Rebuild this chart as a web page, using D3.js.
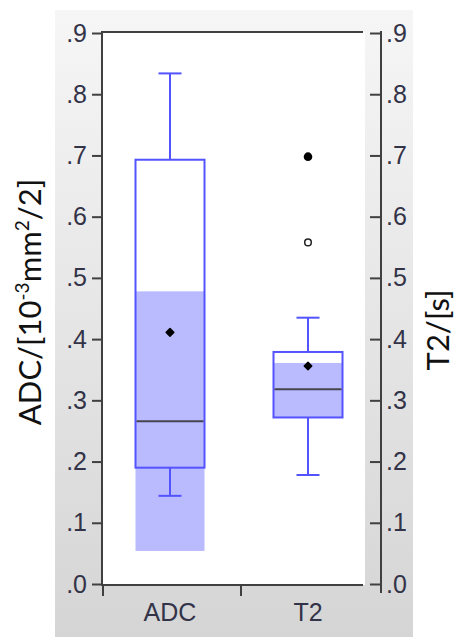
<!DOCTYPE html>
<html><head><meta charset="utf-8">
<script src="https://cdn.jsdelivr.net/npm/d3@7"></script>
<style>body{margin:0;background:#fff}svg{display:block}</style>
</head><body>
<svg id="c" width="459" height="637"></svg>
<script>
const categories = ["ADC", "T2"];
const whiskerLow = [0.144, 0.178];
const q1 = [0.190, 0.272];
const median = [0.266, 0.318];
const q3 = [0.693, 0.379];
const whiskerHigh = [0.834, 0.435];
const mean = [0.411, 0.356];
const bandLow = [0.054, 0.272];
const bandHigh = [0.478, 0.361];
const outlierCat = ["T2", "T2"];
const outlierVal = [0.698, 0.558];
const outlierFilled = [true, false];
const yTickValues = [0, 0.1, 0.2, 0.3, 0.4, 0.5, 0.6, 0.7, 0.8, 0.9];
const yTickLabels = [".0", ".1", ".2", ".3", ".4", ".5", ".6", ".7", ".8", ".9"];
const yTitleLeft = ["ADC/[10", "-3", "mm", "2", "/2]"];
const yTitleRight = "T2/[s]";

const svg = d3.select("#c");
const defs = svg.append("defs");
const g = defs.append("linearGradient").attr("id","bg").attr("x1",0).attr("y1",0).attr("x2",0).attr("y2",1);
g.append("stop").attr("offset","0%").attr("stop-color","#f6f6f6");
g.append("stop").attr("offset","100%").attr("stop-color","#d5d5d5");

svg.append("rect").attr("x",55).attr("y",10).attr("width",358).attr("height",627).attr("fill","url(#bg)");

const x = d3.scaleBand().domain(categories).range([101, 377]);
const y = d3.scaleLinear().domain([0, 0.9]).range([584, 33]);
const cx = c => x(c) + x.bandwidth()/2;
const boxW = 69, capW = 23;
const blue = "#5353ff", fillBlue = "#babaff", axisCol = "#404040";

svg.append("rect").attr("x",102).attr("y",32).attr("width",263).attr("height",553).attr("fill","#fff");

const data = categories.map((c,i)=>({c, lo:whiskerLow[i], q1:q1[i], med:median[i], q3:q3[i], hi:whiskerHigh[i], mean:mean[i], bl:bandLow[i], bh:bandHigh[i]}));

const gb = svg.append("g");
data.forEach(d=>{
  const xc = cx(d.c);
  gb.append("rect").attr("x",xc-boxW/2).attr("y",y(d.bh)).attr("width",boxW).attr("height",y(d.bl)-y(d.bh)).attr("fill",fillBlue);
  gb.append("line").attr("x1",xc).attr("x2",xc).attr("y1",y(d.q3)).attr("y2",y(d.hi)).attr("stroke",blue).attr("stroke-width",2);
  gb.append("line").attr("x1",xc).attr("x2",xc).attr("y1",y(d.q1)).attr("y2",y(d.lo)).attr("stroke",blue).attr("stroke-width",2);
  gb.append("line").attr("x1",xc-capW/2).attr("x2",xc+capW/2).attr("y1",y(d.hi)).attr("y2",y(d.hi)).attr("stroke",blue).attr("stroke-width",2);
  gb.append("line").attr("x1",xc-capW/2).attr("x2",xc+capW/2).attr("y1",y(d.lo)).attr("y2",y(d.lo)).attr("stroke",blue).attr("stroke-width",2);
  gb.append("rect").attr("x",xc-boxW/2).attr("y",y(d.q3)).attr("width",boxW).attr("height",y(d.q1)-y(d.q3)).attr("fill","none").attr("stroke",blue).attr("stroke-width",2);
  gb.append("line").attr("x1",xc-boxW/2+1).attr("x2",xc+boxW/2-1).attr("y1",y(d.med)).attr("y2",y(d.med)).attr("stroke","#45454f").attr("stroke-width",2);
  gb.append("path").attr("transform",`translate(${xc},${y(d.mean)})`).attr("d",d3.symbol(d3.symbolDiamond2,36)()).attr("fill","#000").attr("stroke","#000").attr("stroke-width",1.5).attr("stroke-linejoin","round");
});
outlierVal.forEach((v,i)=>{
  const p = gb.append("circle").attr("cx",cx(outlierCat[i])).attr("cy",y(v));
  if(outlierFilled[i]) p.attr("r",4.3).attr("fill","#000");
  else p.attr("r",3.3).attr("fill","#fff").attr("stroke","#222").attr("stroke-width",1.5);
});

const fr = svg.append("g").attr("stroke",axisCol).attr("stroke-width",2);
fr.append("line").attr("x1",101).attr("x2",363).attr("y1",32).attr("y2",32);
fr.append("line").attr("x1",101).attr("x2",363).attr("y1",585).attr("y2",585);

const fmt = d => yTickLabels[yTickValues.indexOf(d)];
const la = svg.append("g").attr("transform","translate(102,0)")
  .call(d3.axisLeft(y).tickValues(yTickValues).tickFormat(fmt).tickSize(10).tickSizeOuter(0).tickPadding(5));
la.select(".domain").attr("d","M0,32V585");
const ra = svg.append("g").attr("transform","translate(381,0)")
  .call(d3.axisRight(y).tickValues(yTickValues).tickFormat(fmt).tickSize(0).tickSizeOuter(0).tickPadding(5));
ra.select(".domain").attr("d","M0,31V593");
ra.selectAll(".tick").append("line").attr("x1",-11).attr("x2",0).attr("stroke",axisCol).attr("stroke-width",2);
[la, ra].forEach(a=>{
  a.selectAll(".domain").attr("stroke",axisCol).attr("stroke-width",2);
  a.selectAll(".tick line").attr("stroke",axisCol).attr("stroke-width",2);
  a.selectAll(".tick text").attr("font-family","'Liberation Sans', Arial, sans-serif").attr("font-size",25).attr("fill","#333348");
});

const bottomTicks = [x(categories[0]), x(categories[1])];
svg.append("g").selectAll("line").data(bottomTicks).join("line")
  .attr("x1",d=>d+2).attr("x2",d=>d+2).attr("y1",585).attr("y2",596).attr("stroke",axisCol).attr("stroke-width",2);
svg.append("g").selectAll("text").data(categories).join("text")
  .attr("x",d=>cx(d)).attr("y",621).attr("text-anchor","middle")
  .attr("font-family","'Liberation Sans', Arial, sans-serif").attr("font-size",25).attr("fill","#333348").text(d=>d);

const tf = "Lato, 'Noto Sans', sans-serif";
const tl = svg.append("text").attr("transform","translate(41,302) rotate(-90)").attr("text-anchor","middle")
  .attr("font-family",tf).attr("font-size",31).attr("fill","#111");
yTitleLeft.forEach((s,i)=>{
  const sup = i===1 || i===3;
  const t = tl.append("tspan").text(s);
  if(sup) t.attr("font-size",19).attr("dy",-12);
  else if(i>0) t.attr("dy",12);
});
svg.append("text").attr("transform","translate(449,330) rotate(-90)").attr("text-anchor","middle")
  .attr("font-family",tf).attr("font-size",31).attr("fill","#111").text(yTitleRight);
</script>
</body></html>
